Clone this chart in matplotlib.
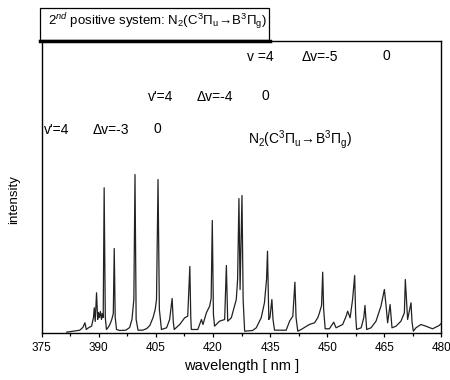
import matplotlib
matplotlib.use("Agg")
import matplotlib.pyplot as plt
from matplotlib.patches import Rectangle
from matplotlib.lines import Line2D
from matplotlib.ticker import MultipleLocator

plt.rcParams['font.family'] = ['Liberation Sans', 'DejaVu Sans']
plt.rcParams['mathtext.fontset'] = 'custom'
plt.rcParams['mathtext.rm'] = 'Liberation Sans'
plt.rcParams['mathtext.it'] = 'Liberation Sans:italic'
plt.rcParams['mathtext.bf'] = 'Liberation Sans:bold'

# spectrum (arbitrary intensity units)
wavelength = [
    381.55, 383.7, 385.0, 385.8, 386.35, 386.7, 387.4, 388.1, 388.6, 388.8,
    389.05, 389.4, 389.7, 389.9, 390.15, 390.4, 390.7, 390.9, 391.15, 391.4,
    391.7, 392.0, 392.45, 392.9, 393.4, 393.8, 394.05, 394.3, 394.65, 395.5,
    397.1, 398.1, 398.7, 399.2, 399.5, 399.8, 400.3, 401.55, 402.6, 403.4,
    404.25, 404.8, 405.15, 405.55, 405.9, 406.45, 407.8, 408.6, 409.25, 409.55, 409.8,
    411.25, 412.55, 413.35, 413.9, 414.15, 414.3, 416.0, 416.95, 417.35, 418.25,
    419.1, 419.5, 419.8, 420.1, 420.4, 421.7, 423.05, 423.5, 423.85, 424.8, 426.1,
    426.45, 426.8, 427.1, 427.6, 427.9, 428.3, 430.4, 431.35, 432.65, 433.5,
    434.05, 434.3, 434.65, 434.95, 435.45, 435.75, 436.15, 439.2, 440.1, 440.95,
    441.5, 441.8, 442.25, 443.15, 445.3, 446.65, 447.5, 447.95, 448.5, 448.8, 449.05,
    449.45, 450.55, 451.7, 452.3, 454.05, 454.95, 455.35, 456.0, 456.65, 457.2,
    457.45, 457.7, 458.9, 459.6, 459.9, 460.35, 461.5, 462.8, 464.1, 465.0,
    465.45, 465.85, 466.5, 467.0, 468.05, 469.35, 470.25, 470.5, 471.1, 472.0,
    472.25, 472.6, 473.3, 474.6, 475.9, 477.65, 479.4, 480.1,
]
intensity = [
    1.3, 2.5, 3.3, 6.0, 10.7, 4.0, 6.0, 7.3, 16.0, 25.7,
    12.0, 40.7, 14.0, 21.0, 16.0, 22.0, 14.0, 20.0, 16.0, 145.7,
    16.0, 4.0, 6.0, 9.0, 14.0, 20.0, 85.0, 16.0, 4.0, 3.0,
    3.3, 6.0, 14.0, 34.0, 159.0, 14.0, 3.3, 3.3, 5.0, 8.0,
    16.0, 24.0, 34.0, 154.0, 24.0, 4.0, 5.7, 14.0, 35.0, 12.0, 4.0,
    9.0, 15.7, 17.3, 67.0, 16.0, 4.0, 4.0, 14.0, 9.0, 20.7,
    27.3, 35.0, 113.0, 19.0, 7.3, 12.3, 14.0, 68.0, 12.3, 15.7, 34.0,
    54.0, 135.0, 44.0, 138.0, 34.0, 2.3, 3.0, 5.7, 15.7, 30.7,
    54.0, 82.3, 14.0, 16.0, 34.0, 14.0, 3.3, 3.3, 12.3, 17.3,
    51.3, 16.0, 2.3, 4.0, 9.0, 10.7, 15.7, 20.7, 28.0, 61.3, 24.0,
    4.7, 4.7, 11.3, 5.7, 9.0, 17.3, 22.3, 15.7, 34.0, 58.0,
    19.0, 4.0, 5.7, 16.0, 28.0, 4.0, 5.7, 12.3, 27.3, 44.0,
    27.3, 10.7, 29.0, 5.7, 7.3, 12.3, 20.7, 54.0, 14.0, 30.7,
    12.0, 2.3, 5.7, 9.0, 7.3, 4.7, 8.0, 10.7,
]

x_ticks = [375, 390, 405, 420, 435, 450, 465, 480]

fig = plt.figure(figsize=(4.5, 3.8), dpi=100)
ax = fig.add_axes([0.0927, 0.1224, 0.8884, 0.7684])

ax.plot(wavelength, intensity, color='#222222', lw=0.9)

ax.set_xlim(375, 480)
ax.set_ylim(0, 292)
ax.set_xticks(x_ticks)
ax.xaxis.set_minor_locator(MultipleLocator(7.5))
ax.set_yticks([])
ax.tick_params(axis='x', which='major', direction='out', length=3, width=0.9,
               labelsize=8.5, pad=3)
ax.tick_params(axis='x', which='minor', direction='out', length=2.5, width=0.9)
for sp in ax.spines.values():
    sp.set_linewidth(1.0)

ax.set_xlabel("wavelength [ nm ]", fontsize=10.5, labelpad=4)
ax.set_ylabel("intensity", fontsize=9.5)
ax.yaxis.set_label_coords(-0.055, 0.46)

fs = 10
n2 = r"N$_2$(C$^3\Pi_\mathrm{u}\!\rightarrow\!$B$^3\Pi_\mathrm{g}$)"
ax.text(0.5135, 0.948, "v =4", transform=ax.transAxes, fontsize=fs, va='center')
ax.text(0.650, 0.948, "\u0394v=-5", transform=ax.transAxes, fontsize=fs, va='center')
ax.text(0.853, 0.952, "0", transform=ax.transAxes, fontsize=fs, va='center')
ax.text(0.266, 0.811, "v'=4", transform=ax.transAxes, fontsize=fs, va='center')
ax.text(0.388, 0.811, "\u0394v=-4", transform=ax.transAxes, fontsize=fs, va='center')
ax.text(0.550, 0.815, "0", transform=ax.transAxes, fontsize=fs, va='center')
ax.text(0.006, 0.697, "v'=4", transform=ax.transAxes, fontsize=fs, va='center')
ax.text(0.128, 0.697, "\u0394v=-3", transform=ax.transAxes, fontsize=fs, va='center')
ax.text(0.279, 0.700, "0", transform=ax.transAxes, fontsize=fs, va='center')
ax.text(0.516, 0.663, n2, transform=ax.transAxes, fontsize=fs, va='center')

# boxed title on top of the frame
box = Rectangle((39.5 / 450, 1 - 40 / 380), (269 - 39.5) / 450, 32 / 380,
                transform=fig.transFigure, facecolor='white', edgecolor='black',
                lw=0.9, zorder=3)
fig.patches.append(box)
fig.lines.append(Line2D([40 / 450, 270 / 450], [1 - 40.5 / 380, 1 - 40.5 / 380],
                        transform=fig.transFigure, color='black', lw=2.5, zorder=4))
fig.text(48 / 450, 1 - 22 / 380, r"2$^{nd}$ positive system: " + n2,
         fontsize=9.5, va='center', zorder=5)

fig.savefig("out.png", dpi=100)
